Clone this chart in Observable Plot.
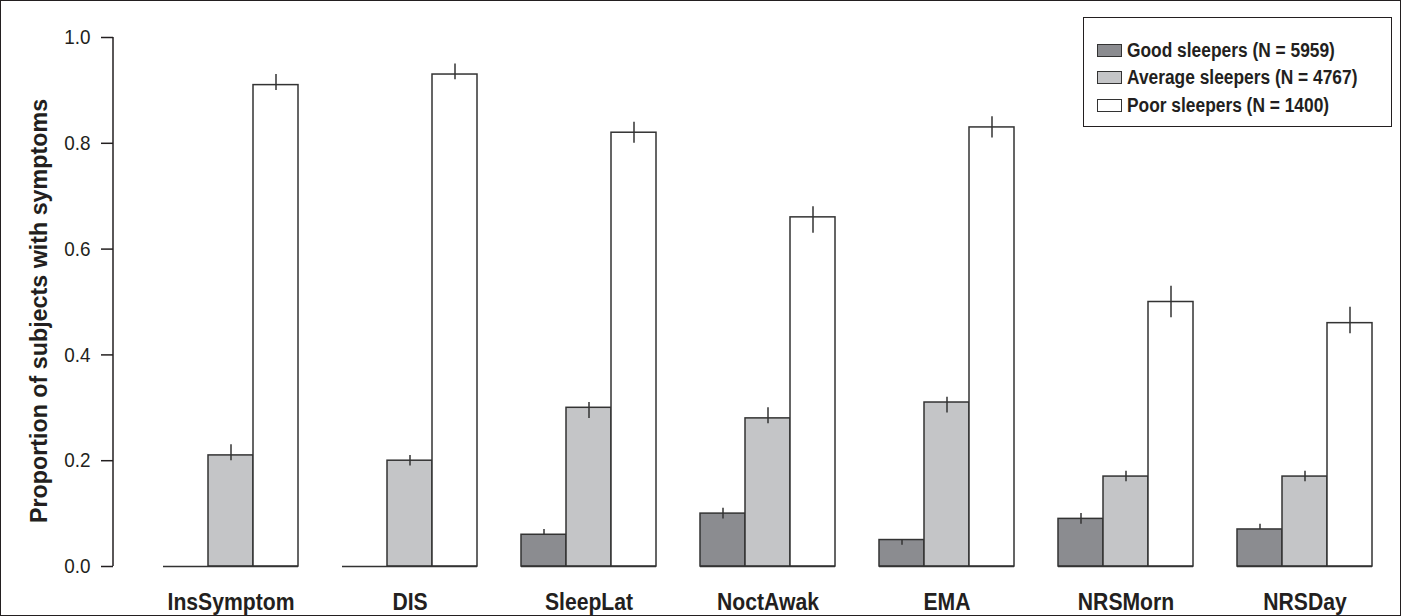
<!DOCTYPE html>
<html>
<head>
<meta charset="utf-8">
<script src="https://cdn.jsdelivr.net/npm/d3@7"></script>
<script src="https://cdn.jsdelivr.net/npm/@observablehq/plot@0.6"></script>
<style>
  body { margin: 0; background: #fff; }
  #wrap { position: relative; width: 1401px; height: 616px; overflow: hidden;
    font-family: "Liberation Sans", Arial, sans-serif; color: #231f20; }
  #border { position: absolute; left: 0; top: 0; width: 1399px; height: 614px; border: 1px solid #231f20; pointer-events: none; }
  #ylabel { position: absolute; left: 39px; top: 311px; transform: translate(-50%, -50%) rotate(-90deg) scaleX(0.95);
    font-weight: bold; font-size: 24.5px; white-space: nowrap; }
  #legend { position: absolute; left: 1083px; top: 17px; width: 307px; height: 108px; border: 1.5px solid #231f20; background: #fff; }
  .row { position: absolute; left: 13px; height: 20px; display: flex; align-items: center; font-weight: bold; font-size: 19.5px; white-space: nowrap; }
  .sw { width: 23px; height: 11px; border: 1.5px solid #333; margin-right: 5px; flex: none; }
  .lt { display: inline-block; transform: scaleX(0.89); transform-origin: left center; }
</style>
</head>
<body>
<div id="wrap">
  <div id="chart"></div>
  <div id="ylabel">Proportion of subjects with symptoms</div>
  <div id="legend"></div>
  <div id="border"></div>
</div>
<script>
const categories = ["InsSymptom", "DIS", "SleepLat", "NoctAwak", "EMA", "NRSMorn", "NRSDay"];
const seriesNames = ["Good sleepers (N = 5959)", "Average sleepers (N = 4767)", "Poor sleepers (N = 1400)"];
const seriesColors = ["#8b8c90", "#c4c5c7", "#ffffff"];

const goodValues = [0, 0, 0.06, 0.10, 0.05, 0.09, 0.07];
const goodLower  = [0, 0, 0.06, 0.09, 0.04, 0.08, 0.07];
const goodUpper  = [0, 0, 0.07, 0.11, 0.05, 0.10, 0.08];

const averageValues = [0.21, 0.20, 0.30, 0.28, 0.31, 0.17, 0.17];
const averageLower  = [0.20, 0.19, 0.28, 0.27, 0.29, 0.16, 0.16];
const averageUpper  = [0.23, 0.21, 0.31, 0.30, 0.32, 0.18, 0.18];

const poorValues = [0.91, 0.93, 0.82, 0.66, 0.83, 0.50, 0.46];
const poorLower  = [0.90, 0.92, 0.80, 0.63, 0.81, 0.47, 0.44];
const poorUpper  = [0.93, 0.95, 0.84, 0.68, 0.85, 0.53, 0.49];

const yTicks = [0, 0.2, 0.4, 0.6, 0.8, 1.0];

const groups = [
  [goodValues, goodLower, goodUpper],
  [averageValues, averageLower, averageUpper],
  [poorValues, poorLower, poorUpper]
];
const data = [];
groups.forEach(([v, lo, hi], s) => {
  categories.forEach((c, i) => {
    data.push({category: c, series: seriesNames[s], value: v[i], lower: lo[i], upper: hi[i]});
  });
});

const ink = "#231f20";
const axisLeft = 113;
const fontFam = '"Liberation Sans", Arial, sans-serif';

function makeChart(axisDx) {
  return Plot.plot({
    width: 1401,
    height: 616,
    marginLeft: axisLeft,
    marginRight: 0,
    marginTop: 37,
    marginBottom: 50,
    style: {fontFamily: fontFam, color: ink, background: "transparent"},
    fx: {domain: categories, range: [axisLeft, 1423], paddingInner: 0.244, paddingOuter: 0.261},
    x: {domain: seriesNames, padding: 0, axis: null},
    y: {domain: [0, 1]},
    color: {domain: seriesNames, range: seriesColors},
    marks: [
      Plot.axisY({ticks: yTicks, tickFormat: d3.format(".1f"), tickSize: 12, tickPadding: 11, fontSize: 21, label: null, strokeWidth: 1.5, stroke: ink, dx: axisDx}),
      Plot.axisFx({anchor: "bottom", tickSize: 0, tickPadding: 27, fontSize: 23.5, fontWeight: "bold", label: null}),
      Plot.barY(data, {fx: "category", x: "series", y: "value", fill: "series", stroke: "#333", strokeWidth: 1.5}),
      Plot.ruleY([0], {stroke: "#333", strokeWidth: 1.5}),
      Plot.ruleX(data, {fx: "category", x: "series", y1: "lower", y2: "upper", stroke: "#333", strokeWidth: 1.5})
    ]
  });
}

// first pass to learn where the first facet starts, then shift the y axis to the frame's left edge
const probe = makeChart(0);
const fxStart = probe.scale("fx").apply(categories[0]);
const chart = makeChart(axisLeft - fxStart);
document.getElementById("chart").appendChild(chart);

// condensed look: squeeze each SVG text horizontally about its anchor point
const SVGNS = "http://www.w3.org/2000/svg";
chart.querySelectorAll("text").forEach(t => {
  const isTick = t.closest('[aria-label="y-axis tick label"]') != null;
  const s = isTick ? 0.9 : 0.9;
  let ax = 0;
  const tl = t.transform && t.transform.baseVal;
  if (tl && tl.numberOfItems) {
    const m = tl.consolidate();
    if (m) ax += m.matrix.e;
  }
  const xl = t.x && t.x.baseVal;
  if (xl && xl.numberOfItems) ax += xl.getItem(0).value;
  if (!isFinite(ax)) return;
  const g = document.createElementNS(SVGNS, "g");
  g.setAttribute("transform", `translate(${ax},0) scale(${s},1) translate(${-ax},0)`);
  t.parentNode.insertBefore(g, t);
  g.appendChild(t);
});

// y axis domain line, placed through the plot's own y scale
const ys = chart.scale("y");
d3.select(chart).append("line")
  .attr("x1", axisLeft).attr("x2", axisLeft)
  .attr("y1", ys.apply(0)).attr("y2", ys.apply(1))
  .attr("stroke", ink).attr("stroke-width", 1.5);

// legend
const legend = document.getElementById("legend");
seriesNames.forEach((name, i) => {
  const row = document.createElement("div");
  row.className = "row";
  row.style.top = (22 + i * 27.5) + "px";
  const sw = document.createElement("div");
  sw.className = "sw";
  sw.style.background = seriesColors[i];
  row.appendChild(sw);
  const lt = document.createElement("span");
  lt.className = "lt";
  lt.textContent = name;
  row.appendChild(lt);
  legend.appendChild(row);
});
</script>
</body>
</html>
